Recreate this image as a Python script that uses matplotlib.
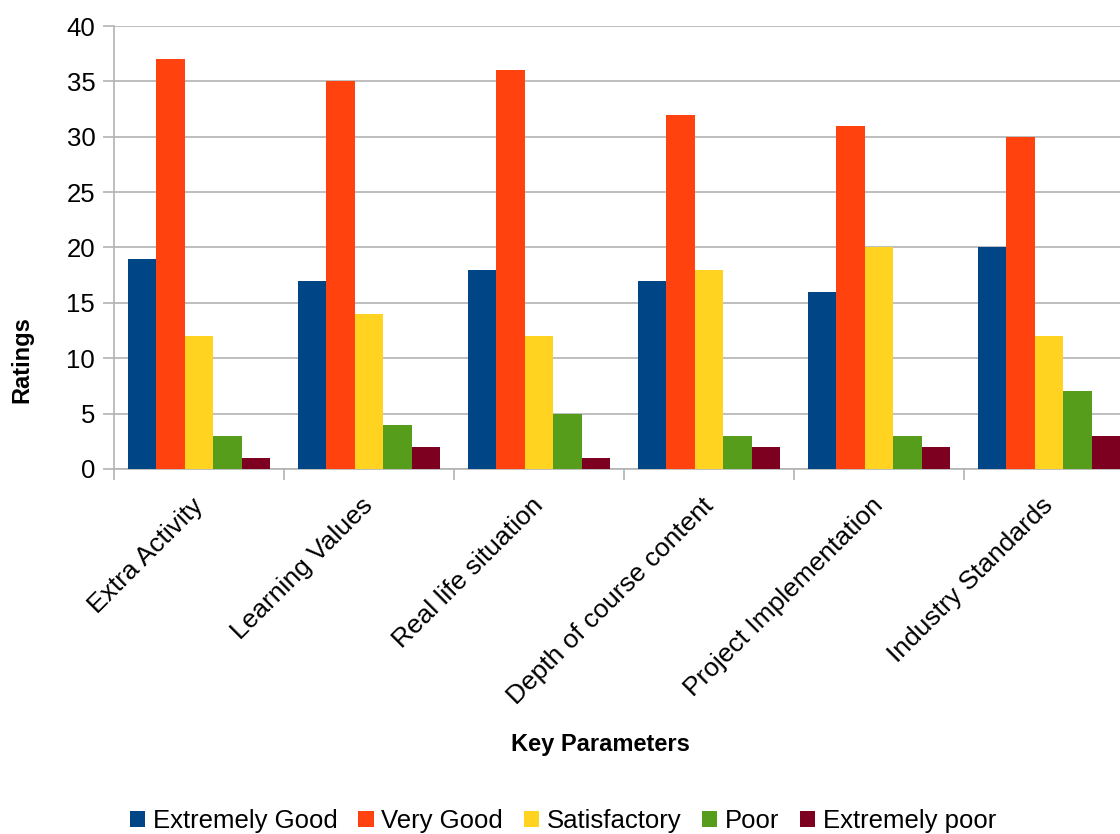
import matplotlib.pyplot as plt
import matplotlib.transforms as mtransforms
import numpy as np

plt.rcParams['font.family'] = ['Liberation Sans', 'DejaVu Sans']

categories = ["Extra Activity", "Learning Values", "Real life situation",
              "Depth of course content", "Project Implementation", "Industry Standards"]
series_names = ["Extremely Good", "Very Good", "Satisfactory", "Poor", "Extremely poor"]
extremely_good = [19, 17, 18, 17, 16, 20]
very_good = [37, 35, 36, 32, 31, 30]
satisfactory = [12, 14, 12, 18, 20, 12]
poor = [3, 4, 5, 3, 3, 7]
extremely_poor = [1, 2, 1, 2, 2, 3]
colors = ["#004586", "#ff420e", "#ffd320", "#579d1c", "#7e0021"]

values = [extremely_good, very_good, satisfactory, poor, extremely_poor]

fig = plt.figure(figsize=(11.2, 8.34), dpi=100)
ax = fig.add_axes([114/1120, 365/834, 1 - 114/1120, 443/834])

x = np.arange(len(categories))
w = 0.167
for i, (vals, name, c) in enumerate(zip(values, series_names, colors)):
    ax.bar(x + (i - 2) * w, vals, w, color=c, label=name, zorder=3)

ax.set_yticks(range(0, 41, 5))
ax.yaxis.grid(True, color="#b3b3b3", linewidth=1.2, zorder=0)

ax.set_xticks(x)
ax.set_xticklabels(categories, rotation=45, ha='right', va='top',
                   rotation_mode='anchor', fontsize=19)
ax.set_xticks(np.arange(-0.5, len(categories), 1), minor=True)
# limits after the ticks, set_xticks would widen them
ax.set_xlim(-0.5, -0.5 + (1120 - 114) / 170)
ax.set_ylim(0, 40)
ax.tick_params(axis='x', which='major', length=0, pad=12)
ax.tick_params(axis='x', which='minor', length=8, color="#b3b3b3", width=1.2)
ax.tick_params(axis='y', length=8, color="#b3b3b3", width=1.2, labelsize=18.5, pad=5.5)

# nudge the slanted labels down-left a little (after tick_params, it resets transforms)
off = mtransforms.ScaledTranslation(-8/100, -8/100, fig.dpi_scale_trans)
for lab in ax.xaxis.get_majorticklabels():
    lab.set_transform(lab.get_transform() + off)

for s in ['top', 'right']:
    ax.spines[s].set_visible(False)
for s in ['left', 'bottom']:
    ax.spines[s].set_color("#b3b3b3")
    ax.spines[s].set_linewidth(1.2)

fig.text(600/1120, 1 - 745/834, "Key Parameters", ha='center', va='center',
         fontsize=17, fontweight='bold')
fig.text(22/1120, 1 - 360/834, "Ratings", ha='center', va='center',
         rotation=90, fontsize=17, fontweight='bold')

fig.legend(loc='center', bbox_to_anchor=(563/1120, 1 - 821/834), ncol=5,
           frameon=False, fontsize=18.5, handlelength=0.6, handleheight=0.6,
           handletextpad=0.3, columnspacing=0.8)

fig.savefig("out.png", dpi=100)
